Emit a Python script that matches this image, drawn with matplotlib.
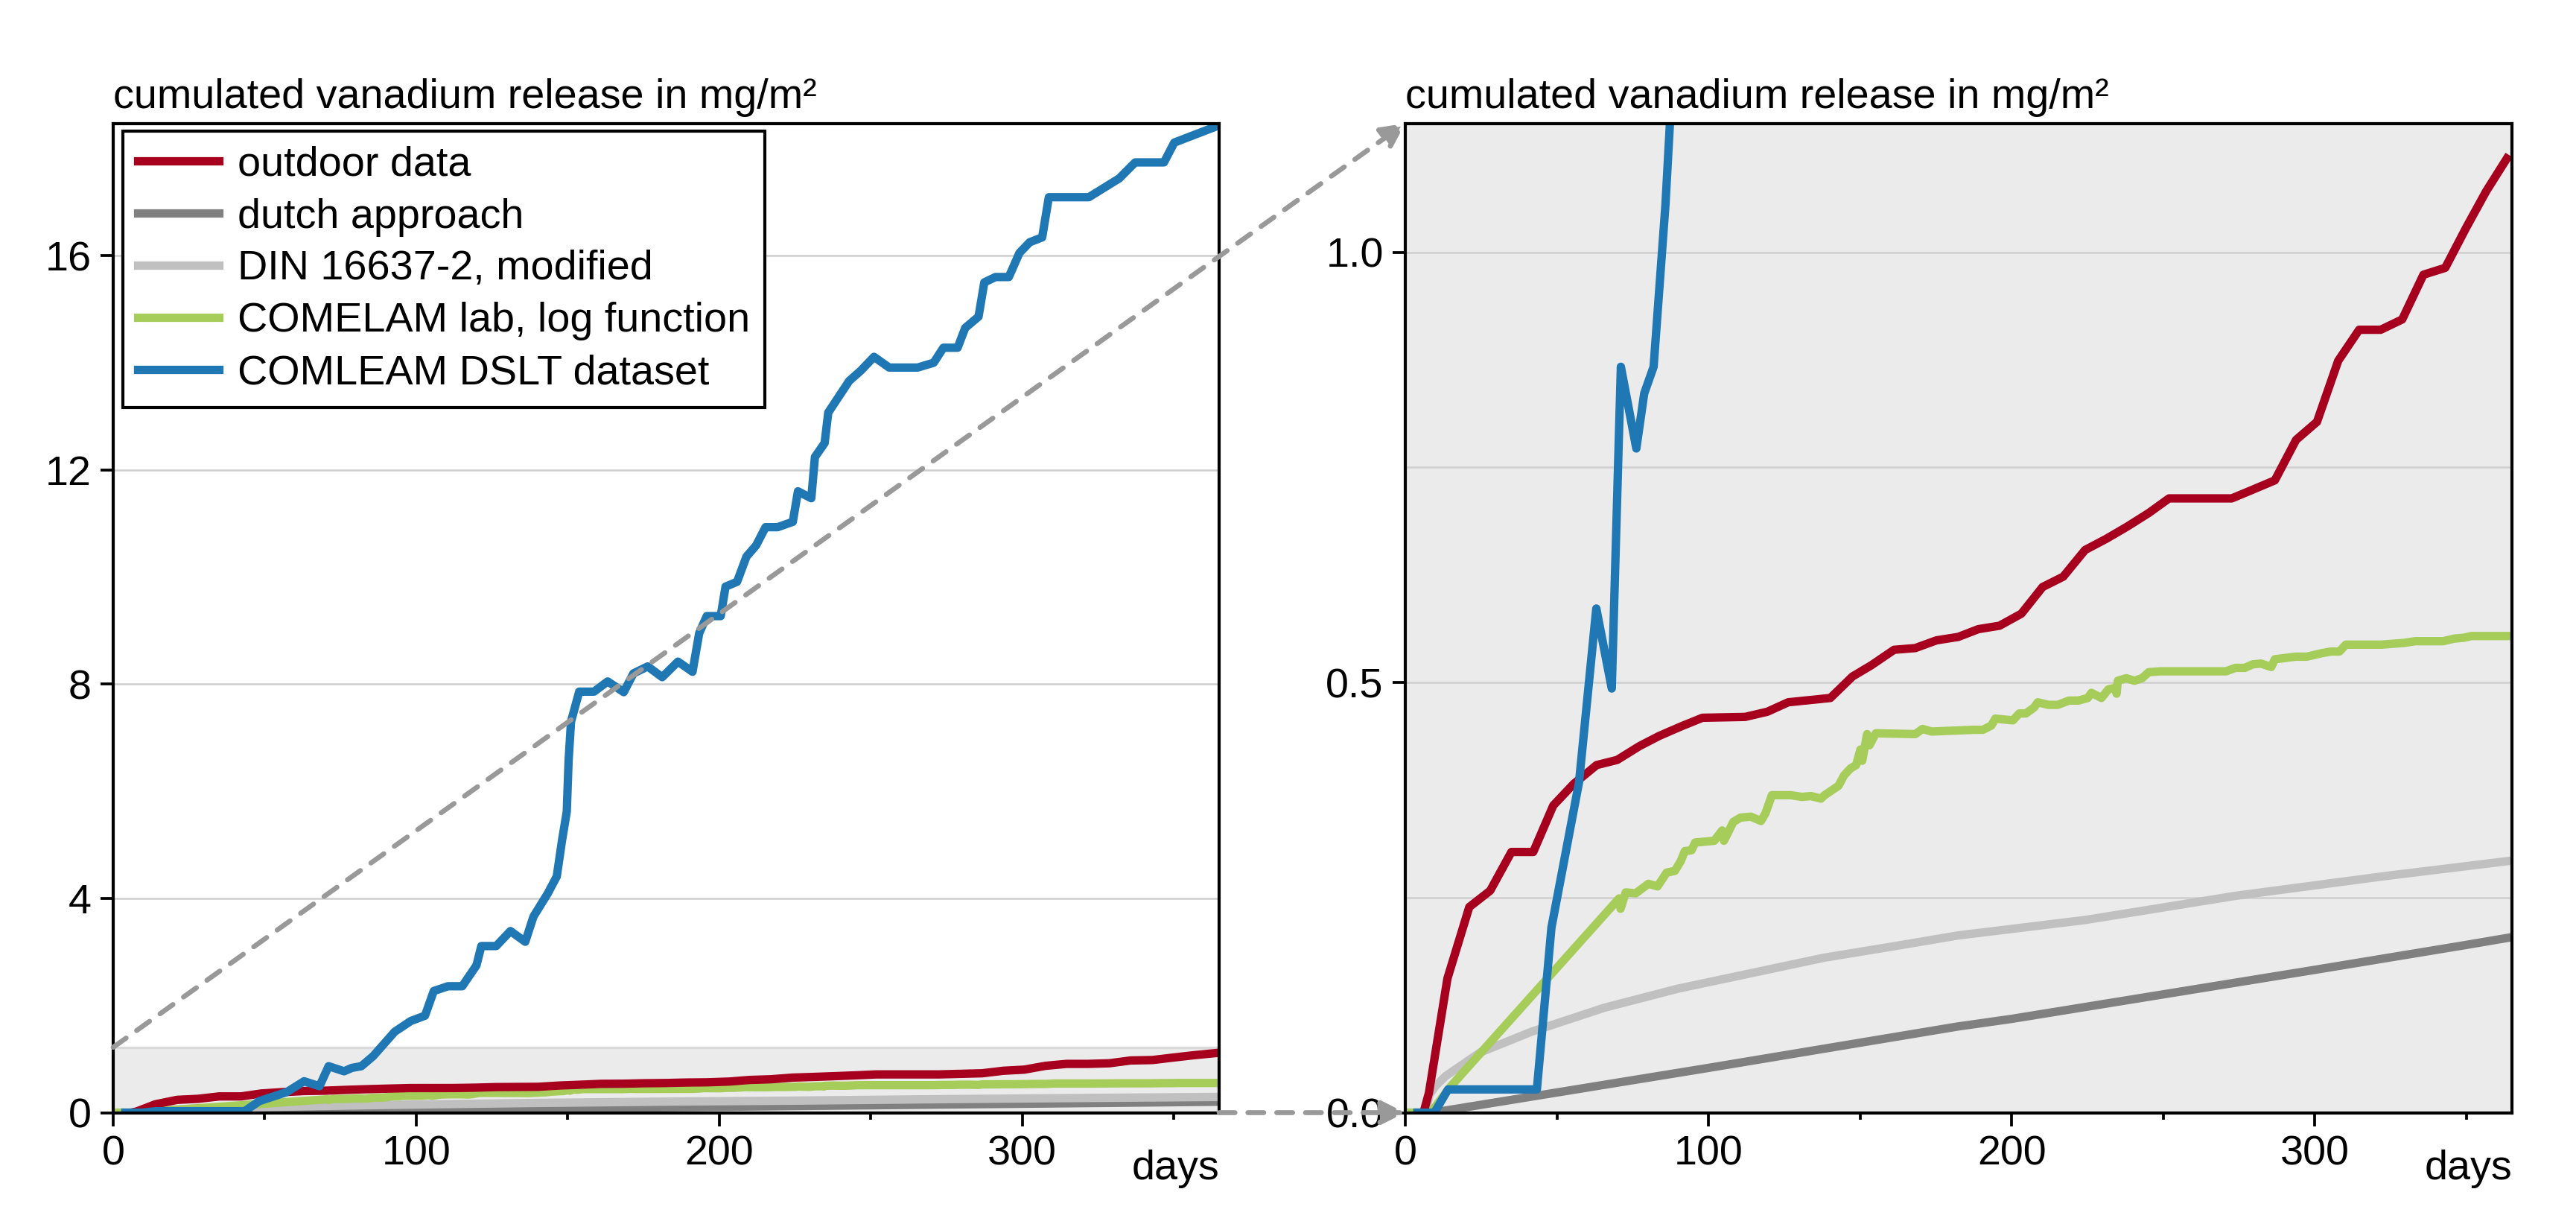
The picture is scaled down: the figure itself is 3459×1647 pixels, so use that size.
import matplotlib
matplotlib.use("Agg")
import matplotlib.pyplot as plt
from matplotlib.patches import Rectangle, ConnectionPatch
from matplotlib.ticker import MultipleLocator

plt.rcParams['font.family'] = ['Liberation Sans', 'DejaVu Sans']

# ---------------- data ----------------
outdoor_days = [6, 7.8, 13.9, 21.1, 28, 35, 42.2, 48.8, 55.5, 63.1, 69.9, 77.2, 83.8, 91, 98,
                112.1, 119.4, 126.3, 140.2, 147.5, 153.7, 161.2, 168.2, 175.2, 182.4, 189, 196,
                203.2, 210.2, 217, 224.2, 231.2, 238, 245.2, 251.9, 272.6, 279.4, 286.8, 293.8,
                300.7, 307.7, 314.6, 321.7, 328.8, 335.8, 343, 349.8, 356.5, 363.3]
outdoor_vals = [0, 0.023, 0.156, 0.239, 0.258, 0.303, 0.303, 0.357, 0.382, 0.404, 0.410, 0.426,
                0.438, 0.449, 0.459, 0.460, 0.466, 0.477, 0.482, 0.507, 0.520, 0.538, 0.540,
                0.549, 0.553, 0.562, 0.566, 0.580, 0.611, 0.623, 0.654, 0.667, 0.681, 0.697,
                0.714, 0.714, 0.724, 0.735, 0.782, 0.803, 0.874, 0.910, 0.910, 0.922, 0.974,
                0.982, 1.028, 1.071, 1.109]

dutch_days = [9, 100, 182, 200, 250, 300, 350, 365]
dutch_vals = [0, 0.052, 0.100, 0.109, 0.1375, 0.166, 0.195, 0.204]

din_days = [6.6, 8, 10, 13.3, 24.7, 41.6, 65.7, 89.8, 113.9, 138, 162.2, 182.4, 224.4, 273.8,
             323.2, 365]
din_vals = [0, 0.021, 0.031, 0.0425, 0.070, 0.094, 0.122, 0.144, 0.162, 0.180, 0.194, 0.206,
            0.224, 0.252, 0.275, 0.293]

lab_days = [0, 8.4, 15.1, 70.5, 71, 72.7, 76, 80.2, 83.2, 86.2, 88.9, 90.8, 92.2, 94.4, 95.6,
            101.9, 104.5, 105.1, 108.2, 110.6, 114, 117.3, 118.8, 120.9, 127.2, 130.8, 133.8,
            137.1, 138.3, 142.9, 144.7, 146.8, 148.7, 150.1, 150.7, 152.3, 153.1, 155.2, 168.2,
            170.6, 173.6, 187.4, 190.5, 193.3, 194.6, 200.4, 202.5, 204.7, 207.4, 208.6, 212.1,
            215.2, 218.9, 222, 225.1, 226.3, 229.6, 231.9, 234.3, 234.6, 235, 237.8, 240.5, 243,
            245.2, 249.1, 270.7, 273.8, 276.9, 279.4, 282.2, 285.6, 286.8, 293.6, 297.3, 302.2,
            305.3, 308.1, 310.2, 322, 329.4, 333.1, 342.3, 346, 349.1, 351.6, 363.7]
lab_vals = [0, 0, 0.031, 0.249, 0.237, 0.256, 0.255, 0.266, 0.263, 0.279, 0.281, 0.292, 0.304,
            0.305, 0.314, 0.316, 0.328, 0.316, 0.338, 0.343, 0.344, 0.339, 0.348, 0.369, 0.369,
            0.367, 0.368, 0.365, 0.369, 0.380, 0.392, 0.400, 0.404, 0.422, 0.409, 0.440, 0.427,
            0.441, 0.440, 0.446, 0.443, 0.445, 0.445, 0.450, 0.458, 0.456, 0.464, 0.464, 0.471,
            0.477, 0.474, 0.474, 0.479, 0.479, 0.482, 0.488, 0.482, 0.492, 0.494, 0.487, 0.502,
            0.505, 0.502, 0.505, 0.512, 0.513, 0.513, 0.517, 0.517, 0.521, 0.522, 0.518, 0.527,
            0.530, 0.530, 0.534, 0.536, 0.536, 0.544, 0.544, 0.546, 0.548, 0.548, 0.551, 0.552,
            0.554, 0.554]

dslt_days = [4, 9.6, 14.1, 43.4, 48.2, 57.3, 63.0, 68.1, 71.1, 76.2, 78.8, 81.9, 85.8, 92.9,
             98.2, 102.9, 105.8, 110.5, 115.2, 119.9, 121.5, 126.4, 131.1, 136.0, 138.7, 143.4,
             146.4, 148.1, 149.7, 150.3, 151.1, 153.8, 158.7, 163.2, 168.5, 171.7, 176.4, 181.2,
             186.4, 191.2, 193.4, 195.9, 200.5, 202.1, 205.9, 209.0, 212.2, 215.3, 219.3, 224.3,
             226.0, 230.4, 231.6, 234.8, 236.0, 242.9, 246.7, 251.1, 256.1, 265.5, 270.8, 274.0,
             278.7, 281.2, 285.6, 287.5, 291.2, 295.6, 299.1, 302.5, 306.6, 308.8, 322.0, 332.0,
             337.3, 346.8, 350.2, 364.0]
dslt_vals = [0, 0, 0.027, 0.027, 0.215, 0.384, 0.586, 0.493, 0.867, 0.772, 0.836, 0.867, 1.055,
             1.51, 1.71, 1.81, 2.27, 2.36, 2.36, 2.75, 3.11, 3.11, 3.39, 3.19, 3.66, 4.09, 4.41,
             5.07, 5.62, 6.57, 7.30, 7.86, 7.86, 8.05, 7.85, 8.2, 8.33, 8.13, 8.42, 8.23, 8.95,
             9.27, 9.27, 9.82, 9.91, 10.38, 10.59, 10.93, 10.93, 11.03, 11.6, 11.47, 12.24, 12.5,
             13.07, 13.66, 13.85, 14.11, 13.91, 13.91, 14.0, 14.28, 14.28, 14.65, 14.86, 15.5,
             15.6, 15.6, 16.05, 16.25, 16.34, 17.09, 17.09, 17.44, 17.74, 17.74, 18.11, 18.41]

labels = ["outdoor data", "dutch approach", "DIN 16637-2, modified",
          "COMELAM lab, log function", "COMLEAM DSLT dataset"]
colors = ["#A6001E", "#808080", "#C0C0C0", "#A6CC5A", "#1F77B4"]
ylabel_text = "cumulated vanadium release in mg/m²"
xlabel_text = "days"

series = [(outdoor_days, outdoor_vals), (dutch_days, dutch_vals), (din_days, din_vals),
          (lab_days, lab_vals), (dslt_days, dslt_vals)]
zorders = [4, 2, 2.5, 3, 5]

# ---------------- figure ----------------
W, H = 3459, 1647
fig = plt.figure(figsize=(W / 300, H / 300), dpi=300)
bottom = (H - 1493.5) / H
height = (1493.5 - 165.5) / H
ax1 = fig.add_axes([152 / W, bottom, (1637 - 152) / W, height])
ax2 = fig.add_axes([1887 / W, bottom, (3373 - 1887) / W, height])

FS = 13.4
LW = 2.7
XMAX = 365
ZOOM_TOP = 1.15

for ax in (ax1, ax2):
    for (d, v), c, lab, z in zip(series, colors, labels, zorders):
        ax.plot(d, v, color=c, lw=LW, label=lab, zorder=z, solid_joinstyle='round')
    ax.set_xlim(0, XMAX)
    ax.xaxis.set_major_locator(MultipleLocator(100))
    ax.xaxis.set_minor_locator(MultipleLocator(50))
    ax.tick_params(axis='x', which='major', length=4.2, width=0.9, pad=3, labelsize=FS)
    ax.tick_params(axis='x', which='minor', length=2.2, width=0.9)
    ax.tick_params(axis='y', which='major', length=4.0, width=0.9, pad=3, labelsize=FS)
    ax.tick_params(axis='y', which='minor', length=0)
    for s in ax.spines.values():
        s.set_linewidth(1.0)
        s.set_color('black')
        s.set_zorder(6)
    ax.yaxis.grid(True, which='both', color='#CFCFCF', lw=0.6, zorder=0)
    ax.set_axisbelow(True)
    ax.annotate(ylabel_text, xy=(0, 1), xycoords='axes fraction', xytext=(0, 5),
                textcoords='offset points', ha='left', va='baseline', fontsize=FS)
    ax.annotate(xlabel_text, xy=(1, 0), xycoords='axes fraction', xytext=(0, -21.5),
                textcoords='offset points', ha='right', va='baseline', fontsize=FS)

# left panel
ax1.set_ylim(0, 18.47)
ax1.set_yticks([0, 4, 8, 12, 16])
ax1.yaxis.get_gridlines()[0].set_visible(False)
ax1.add_patch(Rectangle((0, 0), XMAX, 1.22, facecolor='#EBEBEB', edgecolor='#DADADA',
                        lw=0.8, zorder=1))
leg = ax1.legend(loc='upper left', bbox_to_anchor=(0.009, 0.992), borderaxespad=0,
                 fontsize=FS, frameon=True, fancybox=False, framealpha=1,
                 edgecolor='black', handlelength=1.95, handletextpad=0.45,
                 labelspacing=0.32, borderpad=0.35)
leg.get_frame().set_linewidth(1.0)
leg.set_zorder(10)

# right panel
ax2.set_facecolor('#EBEBEB')
ax2.set_ylim(0, ZOOM_TOP)
ax2.set_yticks([0, 0.5, 1.0])
ax2.set_yticklabels(['0.0', '0.5', '1.0'])
ax2.yaxis.set_minor_locator(MultipleLocator(0.25))

# zoom connectors
dash = (0, (3.2, 2.6))
con1 = ConnectionPatch(xyA=(0, 1.22), coordsA=ax1.transData, xyB=(0, 1), coordsB=ax2.transAxes,
                       arrowstyle='-|>', color='#999999', lw=1.6, linestyle=dash,
                       mutation_scale=16, zorder=20)
con2 = ConnectionPatch(xyA=(1, 0), coordsA=ax1.transAxes, xyB=(0, 0), coordsB=ax2.transAxes,
                       arrowstyle='-|>', color='#999999', lw=1.6, linestyle=dash,
                       mutation_scale=16, zorder=20)
fig.add_artist(con1)
fig.add_artist(con2)

fig.savefig("out.png", dpi=300)
